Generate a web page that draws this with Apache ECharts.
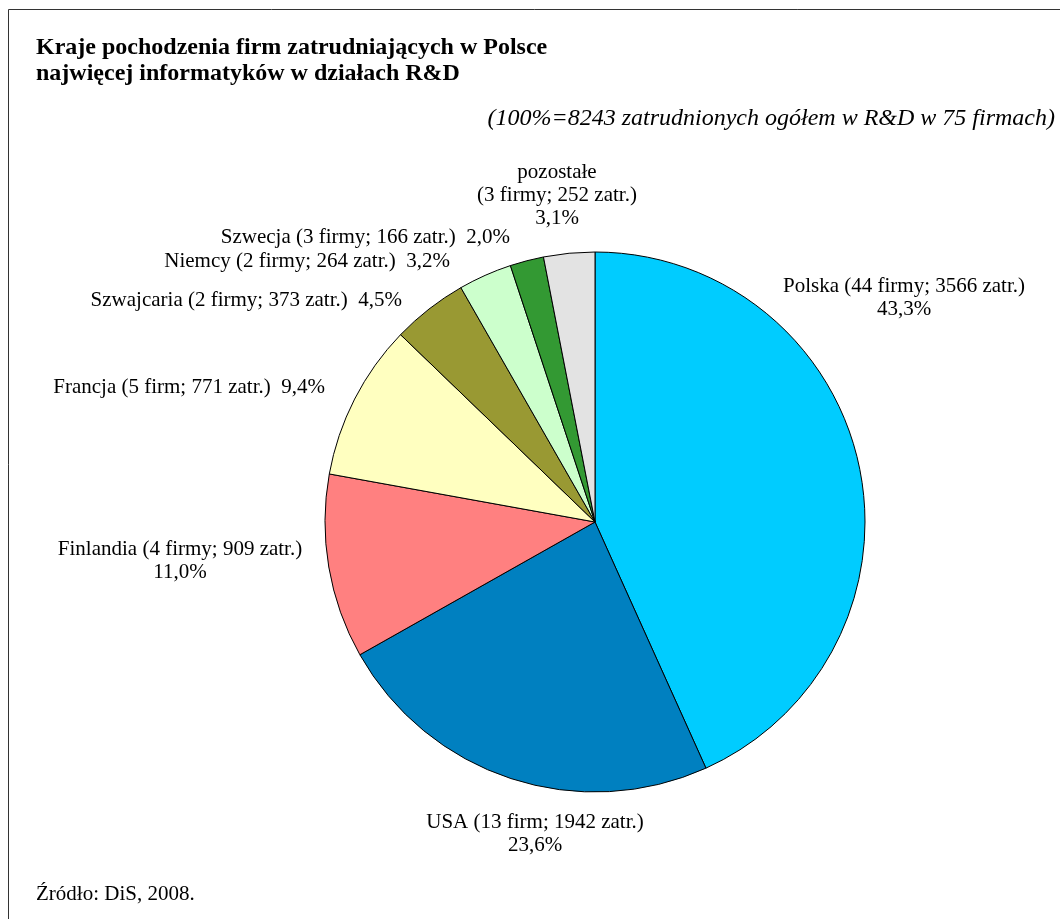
<!DOCTYPE html>
<html><head><meta charset="utf-8">
<script src="https://cdn.jsdelivr.net/npm/echarts@6/dist/echarts.min.js"></script>
<style>html,body{margin:0;padding:0;background:#fff}#c{width:1060px;height:919px}</style>
</head><body><div id="c"></div>
<script>
const categories = ['Polska', 'USA', 'Finlandia', 'Francja', 'Szwajcaria', 'Niemcy', 'Szwecja', 'pozostałe'];
const firmLabels = ['44 firmy', '13 firm', '4 firmy', '5 firm', '2 firmy', '2 firmy', '3 firmy', '3 firmy'];
const employees = [3566, 1942, 909, 771, 373, 264, 166, 252];
const colors = ['#00CCFF', '#0080C0', '#FF8080', '#FFFFC0', '#999933', '#CCFFCC', '#339933', '#E3E3E3'];
// label placement: [x, y, align]
const labelPlace = [
  [904, 298, 'center'],
  [535, 834, 'center'],
  [180, 561, 'center'],
  [325, 387, 'right'],
  [402, 300, 'right'],
  [450, 261, 'right'],
  [510, 237, 'right'],
  [557, 195, 'center']
];
const labelSep = ['\n', '\n', '\n', '  ', '  ', '  ', '  ', '\n'];

const total = employees.reduce((a, b) => a + b, 0);
const pct = v => (v / total * 100).toFixed(1).replace('.', ',') + '%';

const data = categories.map((c, i) => ({
  name: c,
  value: employees[i],
  itemStyle: { color: colors[i] }
}));

const chart = echarts.init(document.getElementById('c'));
const font = 'Liberation Serif, Times New Roman, serif';
chart.setOption({
  animation: false,
  title: [
    { text: 'Kraje pochodzenia firm zatrudniających w Polsce\nnajwięcej informatyków w działach R&D',
      left: 31, top: 30,
      textStyle: { fontFamily: font, fontSize: 24, fontWeight: 'bold', color: '#000', lineHeight: 26 } },
    { text: '(100%=8243 zatrudnionych ogółem w R&D w 75 firmach)',
      right: 0, top: 102,
      textStyle: { fontFamily: font, fontSize: 24, fontStyle: 'italic', fontWeight: 'normal', color: '#000' } },
    { text: 'Źródło: DiS, 2008.',
      left: 31, top: 879,
      textStyle: { fontFamily: font, fontSize: 21, fontWeight: 'normal', color: '#000' } }
  ],
  graphic: [
    { type: 'rect', silent: true, shape: { x: 8.5, y: 9.5, width: 1200, height: 1200 },
      style: { fill: 'none', stroke: '#333', lineWidth: 1 } }
  ],
  series: [{
    type: 'pie',
    center: [595, 522],
    radius: [0, 270],
    startAngle: 90,
    clockwise: true,
    data: data,
    itemStyle: { borderColor: '#000', borderWidth: 1 },
    label: {
      show: true,
      position: 'outside',
      overflow: 'none',
      fontFamily: font,
      fontSize: 21,
      color: '#000',
      lineHeight: 23,
      formatter: p => {
        const i = p.dataIndex;
        const name = categories[i] === 'pozostałe'
          ? 'pozostałe\n(' + firmLabels[i] + '; ' + employees[i] + ' zatr.)'
          : categories[i] + ' (' + firmLabels[i] + '; ' + employees[i] + ' zatr.)';
        return name + labelSep[i] + pct(employees[i]);
      }
    },
    labelLine: { show: false },
    labelLayout: p => {
      const lp = labelPlace[p.dataIndex];
      return { x: lp[0], y: lp[1], align: lp[2], verticalAlign: 'middle' };
    },
    emphasis: { disabled: true }
  }]
});
</script></body></html>
